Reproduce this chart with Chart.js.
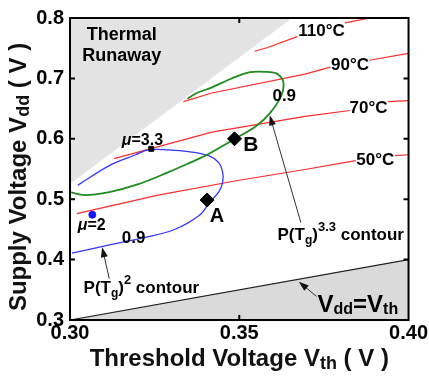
<!DOCTYPE html>
<html>
<head>
<meta charset="utf-8">
<script src="https://cdn.jsdelivr.net/npm/chart.js@4.4.0/dist/chart.umd.min.js"></script>
<style>
  body { margin: 0; background: #fff; }
  canvas { display: block; }
</style>
</head>
<body>
<canvas id="chart" width="429" height="377"></canvas>
<script>
// axis ticks
const xTicks = [0.30, 0.35, 0.40];
const yTicks = [0.3, 0.4, 0.5, 0.6, 0.7, 0.8];

// isotherms (Vth, Vdd), null = gap left for the label
const iso50Vth = [0.302, 0.326, 0.3491, 0.3694, 0.3844, null, 0.3960, 0.400];
const iso50Vdd = [0.476, 0.5068, 0.5305, 0.5492, 0.5638, null, 0.5720, 0.5736];
const iso70Vth = [0.313, 0.3419, 0.3694, 0.3827, null, 0.3939, 0.400];
const iso70Vdd = [0.5671, 0.6111, 0.6371, 0.6469, null, 0.6616, 0.6632];
const iso90Vth = [0.3335, 0.3416, 0.3694, 0.3769, null, 0.3884, 0.400];
const iso90Vdd = [0.6616, 0.6754, 0.7072, 0.7186, null, 0.7300, 0.7414];
const iso110Vth = [0.3545, 0.3584, 0.3671, null, 0.3812, 0.3887];
const iso110Vdd = [0.7450, 0.7511, 0.7691, null, 0.7919, 0.800];
const tempLabels = ['50°C', '70°C', '90°C', '110°C'];

// P(Tg)^3.3 = 0.9 contour
const greenVth = [0.300, 0.3043, 0.3116, 0.3202, 0.3289, 0.3355, 0.3405, 0.3486, 0.3549, 0.3590, 0.3624, 0.3630, 0.3613, 0.3590, 0.3532, 0.3474, 0.3416, 0.3376, 0.3347];
const greenVdd = [0.5117, 0.5068, 0.5117, 0.5248, 0.5443, 0.5606, 0.5736, 0.5997, 0.6208, 0.6420, 0.6713, 0.6941, 0.7072, 0.7104, 0.7104, 0.6990, 0.6844, 0.6762, 0.6664];

// P(Tg)^2 = 0.9 contour
const blueVth = [0.3006, 0.3087, 0.3153, 0.3223, 0.3309, 0.3384, 0.3413, 0.3439, 0.3451, 0.3451, 0.3439, 0.3410, 0.3355, 0.3289, 0.3231, 0.3194, 0.3116, 0.3023];
const blueVdd = [0.4107, 0.4205, 0.4287, 0.4368, 0.4498, 0.4743, 0.4954, 0.5117, 0.5280, 0.5443, 0.5606, 0.5720, 0.5785, 0.5818, 0.5818, 0.5736, 0.5557, 0.5231];

// operating points
const pointNames = ['A', 'B'];
const pointVth = [0.3405, 0.3486];
const pointVdd = [0.4987, 0.6000];
const mu33 = { vth: 0.324, vdd: 0.5834 };
const mu2 = { vth: 0.3066, vdd: 0.4743 };

// region boundaries
const runawayVth = [0.300, 0.3656];
const runawayVdd = [0.525, 0.800];
const equalVth = [0.300, 0.400];
const equalVdd = [0.300, 0.400];

const pts = (xs, ys) => xs.map((x, i) => ({ x: x, y: ys[i] }));
const FONT = 'Arial, "Liberation Sans", sans-serif';
const bold = s => `bold ${s}px ${FONT}`;

function isoSet(xs, ys) {
  return {
    data: pts(xs, ys), showLine: true, borderColor: '#ff2b2b', borderWidth: 1.2,
    pointRadius: 0, tension: 0, order: 3
  };
}

function richText(ctx, parts, x, y, align) {
  let w = 0;
  parts.forEach(p => { ctx.font = p.font; w += ctx.measureText(p.t).width; });
  let cx = align === 'center' ? x - w / 2 : x;
  ctx.textAlign = 'left';
  ctx.textBaseline = 'alphabetic';
  parts.forEach(p => {
    ctx.font = p.font;
    ctx.fillText(p.t, cx, y + (p.dy || 0));
    cx += ctx.measureText(p.t).width;
  });
}

function arrow(ctx, x1, y1, x2, y2) {
  const a = Math.atan2(y2 - y1, x2 - x1);
  ctx.strokeStyle = '#333';
  ctx.fillStyle = '#111';
  ctx.lineWidth = 1;
  ctx.beginPath();
  ctx.moveTo(x1, y1);
  ctx.lineTo(x2 - 6 * Math.cos(a), y2 - 6 * Math.sin(a));
  ctx.stroke();
  ctx.beginPath();
  ctx.moveTo(x2, y2);
  ctx.lineTo(x2 - 10 * Math.cos(a) + 3.5 * Math.sin(a), y2 - 10 * Math.sin(a) - 3.5 * Math.cos(a));
  ctx.lineTo(x2 - 10 * Math.cos(a) - 3.5 * Math.sin(a), y2 - 10 * Math.sin(a) + 3.5 * Math.cos(a));
  ctx.closePath();
  ctx.fill();
}

const decorations = {
  id: 'decorations',
  afterDraw(chart) {
    const { ctx, chartArea: ca, scales: { x, y } } = chart;
    const px = v => x.getPixelForValue(v);
    const py = v => y.getPixelForValue(v);
    ctx.save();

    // frame + inner ticks
    ctx.strokeStyle = '#000';
    ctx.lineWidth = 2;
    ctx.strokeRect(ca.left, ca.top, ca.right - ca.left, ca.bottom - ca.top);
    ctx.beginPath();
    xTicks.slice(1, -1).forEach(v => {
      ctx.moveTo(px(v), ca.bottom); ctx.lineTo(px(v), ca.bottom - 5);
      ctx.moveTo(px(v), ca.top); ctx.lineTo(px(v), ca.top + 5);
    });
    yTicks.slice(1, -1).forEach(v => {
      ctx.moveTo(ca.left, py(v)); ctx.lineTo(ca.left + 5, py(v));
      ctx.moveTo(ca.right, py(v)); ctx.lineTo(ca.right - 5, py(v));
    });
    ctx.stroke();

    ctx.fillStyle = '#000';
    // region names
    ctx.font = bold(18);
    ctx.textAlign = 'center';
    ctx.fillText('Thermal', px(0.3153), py(0.7642));
    ctx.fillText('Runaway', px(0.3153), py(0.7283));

    // isotherm labels
    const tempPos = [[0.3902, 0.5573], [0.3882, 0.6420], [0.3827, 0.7137], [0.3743, 0.7707]];
    ctx.font = bold(17);
    tempLabels.forEach((t, i) => ctx.fillText(t, px(tempPos[i][0]), py(tempPos[i][1])));

    // point names and contour levels
    ctx.textAlign = 'left';
    ctx.font = bold(20);
    ctx.fillText(pointNames[0], px(0.3413), py(0.4629));
    ctx.font = bold(21);
    ctx.fillText(pointNames[1], px(0.3512), py(0.5801));
    ctx.font = bold(17);
    ctx.fillText('0.9', px(0.3153), py(0.4270));
    ctx.fillText('0.9', px(0.3598), py(0.6632));

    const it = `italic bold 16px ${FONT}`;
    richText(ctx, [{ t: 'μ', font: it }, { t: '=3.3', font: bold(16) }], px(0.3153), py(0.5899));
    richText(ctx, [{ t: 'μ', font: it }, { t: '=2', font: bold(16) }], px(0.3023), py(0.4498));

    richText(ctx, [
      { t: 'P(T', font: bold(17) }, { t: 'g', font: bold(12), dy: 4 }, { t: ')', font: bold(17) },
      { t: '2', font: bold(13), dy: -9 }, { t: ' contour', font: bold(17) }
    ], px(0.3040), py(0.3440));
    richText(ctx, [
      { t: 'P(T', font: bold(17) }, { t: 'g', font: bold(12), dy: 4 }, { t: ')', font: bold(17) },
      { t: '3.3', font: bold(13), dy: -9 }, { t: ' contour', font: bold(17) }
    ], px(0.3613), py(0.4319));
    richText(ctx, [
      { t: 'V', font: bold(24) }, { t: 'dd', font: bold(16), dy: 2 },
      { t: '=V', font: bold(24) }, { t: 'th', font: bold(16), dy: 2 }
    ], px(0.3731), py(0.3130));

    // arrows
    arrow(ctx, px(0.3682), py(0.4612), px(0.3590), py(0.6388));
    arrow(ctx, px(0.3116), py(0.3684), px(0.3095), py(0.4205));
    arrow(ctx, px(0.3728), py(0.3391), px(0.3676), py(0.3635));

    // axis titles
    richText(ctx, [
      { t: 'Threshold Voltage V', font: bold(24) }, { t: 'th', font: bold(18), dy: 3 },
      { t: ' ( V )', font: bold(24) }
    ], (ca.left + ca.right) / 2, 366, 'center');
    ctx.translate(26, (ca.top + ca.bottom) / 2 + 8);
    ctx.rotate(-Math.PI / 2);
    richText(ctx, [
      { t: 'Supply Voltage V', font: bold(24) }, { t: 'dd', font: bold(18), dy: 3 },
      { t: ' ( V )', font: bold(24) }
    ], 0, 0, 'center');
    ctx.restore();
  }
};

new Chart(document.getElementById('chart'), {
  type: 'scatter',
  data: {
    datasets: [
      { data: pts(pointVth, pointVdd), pointStyle: 'rectRot', pointRadius: 7, backgroundColor: '#000', borderColor: '#000', order: 0 },
      { data: [{ x: mu33.vth, y: mu33.vdd }], pointStyle: 'rect', pointRadius: 3.5, backgroundColor: '#000', borderColor: '#000', order: 0 },
      { data: [{ x: mu2.vth, y: mu2.vdd }], pointStyle: 'circle', pointRadius: 3.5, backgroundColor: '#1515ff', borderColor: '#1515ff', order: 0 },
      { data: pts(greenVth, greenVdd), showLine: true, borderColor: '#1c8c1c', borderWidth: 1.8, pointRadius: 0, tension: 0.35, order: 1 },
      { data: pts(blueVth, blueVdd), showLine: true, borderColor: '#3535ff', borderWidth: 1.3, pointRadius: 0, tension: 0.35, order: 2 },
      isoSet(iso50Vth, iso50Vdd),
      isoSet(iso70Vth, iso70Vdd),
      isoSet(iso90Vth, iso90Vdd),
      isoSet(iso110Vth, iso110Vdd),
      { data: pts(runawayVth, runawayVdd), showLine: true, borderWidth: 0, borderColor: 'rgba(0,0,0,0)', pointRadius: 0, fill: 'end', backgroundColor: '#e3e3e3', order: 10 },
      { data: pts(equalVth, equalVdd), showLine: true, borderWidth: 1.2, borderColor: '#222', pointRadius: 0, fill: 'start', backgroundColor: '#dadada', order: 10 }
    ]
  },
  options: {
    responsive: false,
    animation: false,
    layout: { padding: { top: 13, right: 13, left: 0, bottom: 0 } },
    plugins: { legend: { display: false }, tooltip: { enabled: false } },
    scales: {
      x: {
        type: 'linear', min: 0.30, max: 0.40,
        afterBuildTicks: s => { s.ticks = xTicks.map(v => ({ value: v })); },
        afterFit: s => { s.height = 57; },
        ticks: { callback: v => v.toFixed(2), font: { size: 20, weight: 'bold', family: FONT }, color: '#000', padding: 1, maxRotation: 0 },
        grid: { display: false, drawTicks: false },
        border: { display: false }
      },
      y: {
        min: 0.3, max: 0.8,
        afterBuildTicks: s => { s.ticks = yTicks.map(v => ({ value: v })); },
        afterFit: s => { s.width = 70; },
        ticks: { callback: v => v.toFixed(1), font: { size: 20, weight: 'bold', family: FONT }, color: '#000', padding: 6 },
        grid: { display: false, drawTicks: false },
        border: { display: false }
      }
    }
  },
  plugins: [decorations]
});
</script>
</body>
</html>
